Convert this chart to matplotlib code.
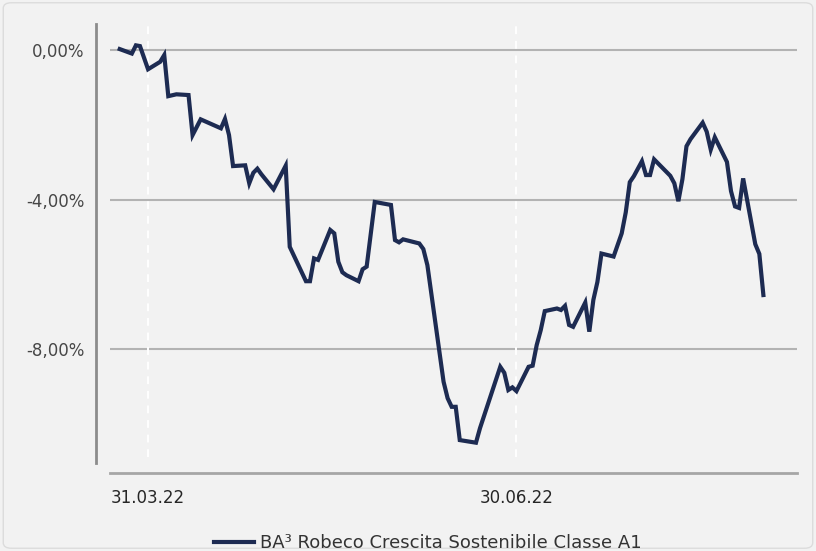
#!/usr/bin/env python3
import matplotlib
matplotlib.use('Agg')
import matplotlib.pyplot as plt
import matplotlib.patches as mplpatches
import matplotlib.dates as mdates
import numpy as np
import pandas as pd

# Values (performance in %)
dates = ['24.03.22', '27.03.22', '28.03.22', '29.03.22', '31.03.22', '03.04.22', '04.04.22',
         '05.04.22', '07.04.22', '10.04.22', '11.04.22', '13.04.22', '18.04.22', '19.04.22',
         '20.04.22', '21.04.22', '24.04.22', '25.04.22', '26.04.22', '27.04.22', '28.04.22',
         '01.05.22', '04.05.22', '05.05.22', '09.05.22', '10.05.22', '11.05.22', '12.05.22',
         '15.05.22', '16.05.22', '17.05.22', '18.05.22', '19.05.22', '22.05.22', '23.05.22',
         '24.05.22', '26.05.22', '28.05.22', '30.05.22', '31.05.22', '01.06.22', '02.06.22',
         '06.06.22', '07.06.22', '08.06.22', '12.06.22', '13.06.22', '14.06.22', '15.06.22',
         '16.06.22', '20.06.22', '21.06.22', '26.06.22', '27.06.22', '28.06.22', '29.06.22',
         '30.06.22', '03.07.22', '04.07.22', '05.07.22', '06.07.22', '07.07.22', '10.07.22',
         '11.07.22', '12.07.22', '13.07.22', '14.07.22', '17.07.22', '18.07.22', '19.07.22',
         '20.07.22', '21.07.22', '24.07.22', '26.07.22', '27.07.22', '28.07.22', '29.07.22',
         '31.07.22', '01.08.22', '02.08.22', '03.08.22', '07.08.22', '08.08.22', '09.08.22',
         '10.08.22', '11.08.22', '12.08.22', '15.08.22', '16.08.22', '17.08.22', '18.08.22',
         '21.08.22', '22.08.22', '23.08.22', '24.08.22', '25.08.22', '28.08.22', '29.08.22',
         '30.08.22']
perf = [0.03, -0.09, 0.13, 0.11, -0.51, -0.31, -0.13,
        -1.23, -1.18, -1.20, -2.27, -1.85, -2.09, -1.84,
        -2.27, -3.10, -3.08, -3.56, -3.28, -3.17, -3.32,
        -3.72, -3.09, -5.26, -6.18, -6.18, -5.57, -5.61,
        -4.81, -4.90, -5.66, -5.94, -6.02, -6.18, -5.86,
        -5.79, -4.06, -4.10, -4.14, -5.08, -5.14, -5.06,
        -5.17, -5.32, -5.75, -8.87, -9.31, -9.54, -9.54,
        -10.43, -10.50, -10.11, -8.47, -8.63, -9.09, -9.02,
        -9.12, -8.47, -8.44, -7.89, -7.49, -6.98, -6.91,
        -6.95, -6.84, -7.35, -7.40, -6.75, -7.53, -6.68,
        -6.20, -5.44, -5.52, -4.90, -4.34, -3.53, -3.37,
        -2.97, -3.34, -3.34, -2.92, -3.36, -3.56, -4.04,
        -3.45, -2.57, -2.38, -1.94, -2.18, -2.66, -2.33,
        -2.99, -3.77, -4.18, -4.22, -3.43, -5.19, -5.45,
        -6.55]
seriesName = 'BA³ Robeco Crescita Sostenibile Classe A1'
xTicks = ['31.03.22', '30.06.22']
yTicks = [0, -4, -8]

xVals = pd.to_datetime(dates, format='%d.%m.%y')
tickDates = pd.to_datetime(xTicks, format='%d.%m.%y')

plt.rcParams['font.family'] = ['DejaVu Sans']

figureWidth = 8.16
figureHeight = 5.51
fig = plt.figure(figsize=(figureWidth, figureHeight), dpi=100)
fig.patch.set_facecolor('#f2f2f2')

mainPanel = plt.axes([0.1348, 0.1416, 0.8419, 0.8148])
mainPanel.set_facecolor('#f2f2f2')

# gridlines and dashed date markers
for y in yTicks:
    mainPanel.axhline(y, color='#b3b3b3', linewidth=1.5, zorder=1)
for d in tickDates:
    mainPanel.axvline(d, ymin=0.036, ymax=1.0, color='white', linewidth=1.4,
                      linestyle=(0, (4, 3.5)), zorder=1)

mainPanel.plot(xVals, perf, color='#1d2b52', linewidth=3.0, label=seriesName,
               solid_joinstyle='miter', zorder=3)

mainPanel.set_xlim(tickDates[0] - pd.Timedelta(days=9.4), tickDates[0] + pd.Timedelta(days=160.3))
mainPanel.set_ylim(-11.31, 0.70)

mainPanel.set_xticks(tickDates)
mainPanel.xaxis.set_major_formatter(mdates.DateFormatter('%d.%m.%y'))
mainPanel.set_yticks(yTicks)
mainPanel.set_yticklabels([('%.2f%%' % v).replace('.', ',') for v in yTicks])
mainPanel.tick_params(axis='both', length=0, labelsize=12, colors='#474747')
mainPanel.tick_params(axis='y', pad=8.5)
mainPanel.tick_params(axis='x', pad=11.5, colors='#262626')

for s in ['top', 'right']:
    mainPanel.spines[s].set_visible(False)
mainPanel.spines['left'].set_position(('outward', 10))
mainPanel.spines['left'].set_bounds(-11.04, 0.70)
mainPanel.spines['left'].set_color('#8c8c8c')
mainPanel.spines['left'].set_linewidth(2)
mainPanel.spines['bottom'].set_color('#a6a6a6')
mainPanel.spines['bottom'].set_linewidth(2)

fig.legend(loc='center', bbox_to_anchor=(0.5245, 0.0145), frameon=False,
           fontsize=13, handlelength=2.2, handletextpad=0.35,
           labelcolor='#333333')

border = mplpatches.FancyBboxPatch((0.004, 0.005), 0.992, 0.99,
                                   boxstyle='round,pad=0,rounding_size=0.01',
                                   transform=fig.transFigure, facecolor='none',
                                   edgecolor='#dcdcdc', linewidth=1.0)
fig.patches.append(border)

plt.savefig('out.png', dpi=100, facecolor=fig.get_facecolor())
